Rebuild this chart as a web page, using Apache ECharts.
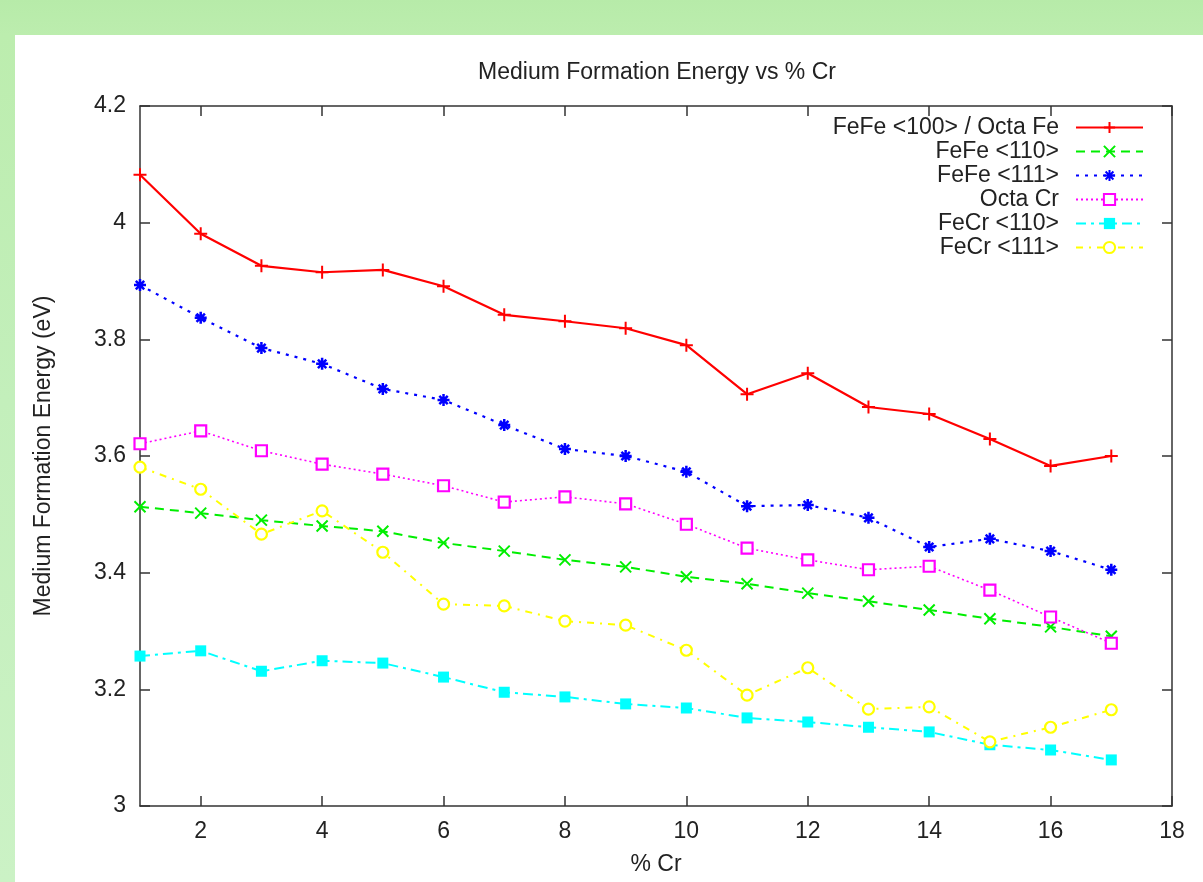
<!DOCTYPE html>
<html>
<head>
<meta charset="utf-8">
<script src="https://cdn.jsdelivr.net/npm/echarts@6/dist/echarts.min.js"></script>
<style>
  html, body { margin: 0; padding: 0; width: 1203px; height: 882px; overflow: hidden;
    background: linear-gradient(180deg, #b7eba9 0px, #bcedae 35px, #c3efbb 400px, #cbf2c5 882px); }
  #chart { position: absolute; left: 15px; top: 35px; width: 1188px; height: 847px; background: #ffffff; }
</style>
</head>
<body>
<div id="chart"></div>
<script>
const crPercent = [1, 2, 3, 4, 5, 6, 7, 8, 9, 10, 11, 12, 13, 14, 15, 16, 17];
const seriesNames = ['FeFe <100> / Octa Fe', 'FeFe <110>', 'FeFe <111>', 'Octa Cr', 'FeCr <110>', 'FeCr <111>'];
const feFe100 = [4.082, 3.981, 3.926, 3.915, 3.919, 3.891, 3.842, 3.831, 3.819, 3.790, 3.706, 3.742, 3.684, 3.672, 3.629, 3.583, 3.600];
const feFe110 = [3.513, 3.502, 3.490, 3.480, 3.471, 3.451, 3.437, 3.422, 3.410, 3.393, 3.381, 3.365, 3.351, 3.336, 3.321, 3.307, 3.291];
const feFe111 = [3.893, 3.837, 3.785, 3.758, 3.715, 3.696, 3.653, 3.612, 3.600, 3.573, 3.514, 3.516, 3.494, 3.444, 3.458, 3.437, 3.405];
const octaCr  = [3.621, 3.643, 3.609, 3.586, 3.569, 3.549, 3.521, 3.530, 3.518, 3.483, 3.442, 3.422, 3.405, 3.411, 3.370, 3.324, 3.279];
const feCr110 = [3.257, 3.266, 3.231, 3.249, 3.245, 3.221, 3.195, 3.187, 3.175, 3.168, 3.151, 3.144, 3.135, 3.127, 3.105, 3.096, 3.079];
const feCr111 = [3.581, 3.543, 3.466, 3.506, 3.435, 3.346, 3.343, 3.317, 3.310, 3.267, 3.190, 3.237, 3.166, 3.170, 3.110, 3.135, 3.165];
const xTickValues = [2, 4, 6, 8, 10, 12, 14, 16, 18];

const FONT = "'Liberation Sans', Arial, Helvetica, sans-serif";
const TXT = '#222222';
const FS = 23;

const styles = [
  { color: '#ff0000', type: 'solid', width: 2.2, symbol: 'path://M5,0L5,10M0,5L10,5', size: 13, fill: '#ff0000', border: 2 },
  { color: '#00ee00', type: [9, 6], width: 2, symbol: 'path://M0,0L10,10M10,0L0,10', size: 11, fill: '#00ee00', border: 2 },
  { color: '#0000ff', type: [3, 6], width: 2.2, symbol: 'path://M5,0L5,10M0,5L10,5M1.5,1.5L8.5,8.5M8.5,1.5L1.5,8.5', size: 12, fill: '#0000ff', border: 2.5 },
  { color: '#ff00ff', type: [2, 3], width: 1.6, symbol: 'rect', size: 11, fill: '#ffffff', border: 2.2 },
  { color: '#00ffff', type: [10, 5, 3, 5], width: 2, symbol: 'rect', size: 11, fill: '#00ffff', border: 0 },
  { color: '#ffff00', type: [7, 6, 2, 6], width: 2, symbol: 'circle', size: 11, fill: '#ffffff', border: 2.2 }
];
const dataSets = [feFe100, feFe110, feFe111, octaCr, feCr110, feCr111];

const series = seriesNames.map((name, i) => {
  const s = styles[i];
  return {
    name: name,
    type: 'line',
    xAxisIndex: 0,
    yAxisIndex: 0,
    data: crPercent.map((x, k) => [x, dataSets[i][k]]),
    symbol: s.symbol,
    symbolSize: s.size,
    showAllSymbol: true,
    lineStyle: { color: s.color, type: s.type, width: s.width },
    itemStyle: { color: s.fill, borderColor: s.color, borderWidth: s.border },
    emphasis: { disabled: true },
    animation: false
  };
});

const axisLineStyle = { color: '#333', width: 1.5 };

const chart = echarts.init(document.getElementById('chart'), null, { renderer: 'canvas' });
chart.setOption({
  animation: false,
  textStyle: { fontFamily: FONT },
  title: {
    text: 'Medium Formation Energy vs % Cr',
    left: 637, top: 21, textAlign: 'center',
    textStyle: { fontFamily: FONT, fontSize: FS, fontWeight: 'normal', color: TXT }
  },
  legend: {
    orient: 'vertical',
    right: 59, top: 81, padding: 0,
    align: 'right',
    itemWidth: 67, itemHeight: 14, itemGap: 1,
    data: seriesNames,
    textStyle: { fontFamily: FONT, fontSize: FS, color: TXT, lineHeight: 20, padding: [0, 12, 0, 0] },
    selectedMode: false
  },
  grid: { left: 125, top: 71, right: 31, bottom: 76, containLabel: false },
  xAxis: [
    {
      type: 'value', min: 1, max: 18, position: 'bottom',
      name: '% Cr', nameLocation: 'middle', nameGap: 47,
      nameTextStyle: { fontFamily: FONT, fontSize: FS, color: TXT },
      axisLine: { show: true, lineStyle: axisLineStyle },
      axisTick: { show: true, inside: true, length: 10, customValues: xTickValues, lineStyle: axisLineStyle },
      axisLabel: { show: true, customValues: xTickValues, margin: 14, fontFamily: FONT, fontSize: FS, color: TXT },
      splitLine: { show: false }
    },
    {
      type: 'value', min: 1, max: 18, position: 'top',
      axisLine: { show: true, lineStyle: axisLineStyle },
      axisTick: { show: true, inside: true, length: 10, customValues: xTickValues, lineStyle: axisLineStyle },
      axisLabel: { show: false },
      splitLine: { show: false }
    }
  ],
  yAxis: [
    {
      type: 'value', min: 3, max: 4.2, interval: 0.2, position: 'left',
      name: 'Medium Formation Energy (eV)', nameLocation: 'middle', nameGap: 85,
      nameTextStyle: { fontFamily: FONT, fontSize: FS, color: TXT },
      axisLine: { show: true, lineStyle: axisLineStyle },
      axisTick: { show: true, inside: true, length: 10, lineStyle: axisLineStyle },
      axisLabel: { show: true, margin: 14, fontFamily: FONT, fontSize: FS, color: TXT,
        formatter: v => (Math.round(v * 10) / 10).toString() },
      splitLine: { show: false }
    },
    {
      type: 'value', min: 3, max: 4.2, interval: 0.2, position: 'right',
      axisLine: { show: true, lineStyle: axisLineStyle },
      axisTick: { show: true, inside: true, length: 10, lineStyle: axisLineStyle },
      axisLabel: { show: false },
      splitLine: { show: false }
    }
  ],
  series: series
});
</script>
</body>
</html>
